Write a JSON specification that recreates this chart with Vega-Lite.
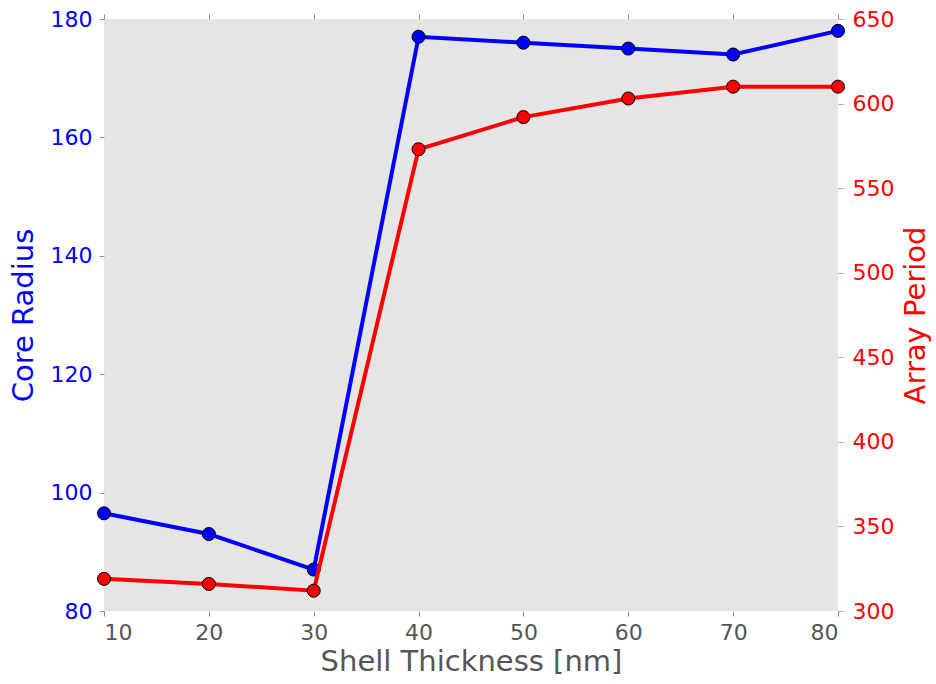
{
  "$schema": "https://vega.github.io/schema/vega-lite/v6.json",
  "width": 734,
  "height": 592,
  "autosize": {"type": "none"},
  "padding": {"left": 104, "top": 19, "right": 98, "bottom": 73},
  "background": "white",
  "config": {
    "view": {"fill": "#e5e5e5", "stroke": null},
    "font": "DejaVu Sans",
    "axis": {"grid": false, "domain": false, "labelFont": "DejaVu Sans", "titleFont": "DejaVu Sans", "labelFontSize": 22, "titleFontSize": 29, "titleFontWeight": "normal", "tickSize": 5, "tickWidth": 1}
  },
  "data": {"values": [
    {"shell": 10, "core": 96.5, "period": 319},
    {"shell": 20, "core": 93, "period": 316},
    {"shell": 30, "core": 87, "period": 312},
    {"shell": 40, "core": 177, "period": 573},
    {"shell": 50, "core": 176, "period": 592},
    {"shell": 60, "core": 175, "period": 603},
    {"shell": 70, "core": 174, "period": 610},
    {"shell": 80, "core": 178, "period": 610}
  ]},
  "layer": [
    {
      "mark": {"type": "line", "color": "#0000ff", "strokeWidth": 4, "point": {"filled": true, "fill": "#0000ff", "stroke": "black", "strokeWidth": 1, "size": 170, "opacity": 1}},
      "encoding": {
        "x": {"field": "shell", "type": "quantitative", "scale": {"domain": [10, 80], "nice": false, "zero": false},
              "axis": {"orient": "bottom", "title": "Shell Thickness [nm]", "values": [10,20,30,40,50,60,70,80], "labelColor": "#555555", "titleColor": "#555555", "tickColor": "#888888", "labelFontSize": 22, "titleFontSize": 29, "labelPadding": 6, "titlePadding": 4}},
        "y": {"field": "core", "type": "quantitative", "scale": {"domain": [80, 180], "nice": false, "zero": false},
              "axis": {"title": "Core Radius", "values": [80,100,120,140,160,180], "labelColor": "#0000ff", "titleColor": "#0000ff", "tickColor": "#8888ff", "labelFontSize": 22, "titleFontSize": 29, "labelPadding": 7, "titlePadding": 12}}
      }
    },
    {
      "mark": {"type": "line", "color": "#ff0000", "strokeWidth": 4, "point": {"filled": true, "fill": "#ff0000", "stroke": "black", "strokeWidth": 1, "size": 170, "opacity": 1}},
      "encoding": {
        "x": {"field": "shell", "type": "quantitative", "axis": {"orient": "top", "labels": false, "title": null, "values": [10,20,30,40,50,60,70,80], "tickColor": "#888888"}},
        "y": {"field": "period", "type": "quantitative", "scale": {"domain": [300, 650], "nice": false, "zero": false},
              "axis": {"orient": "right", "title": "Array Period", "titleAngle": 270, "titleBaseline": "top", "values": [300,350,400,450,500,550,600,650], "labelColor": "#ff0000", "titleColor": "#ff0000", "tickColor": "#ff8888", "labelFontSize": 22, "titleFontSize": 29, "labelPadding": 9, "titlePadding": 8}}
      }
    }
  ],
  "resolve": {"scale": {"y": "independent"}, "axis": {"x": "independent"}}
}
